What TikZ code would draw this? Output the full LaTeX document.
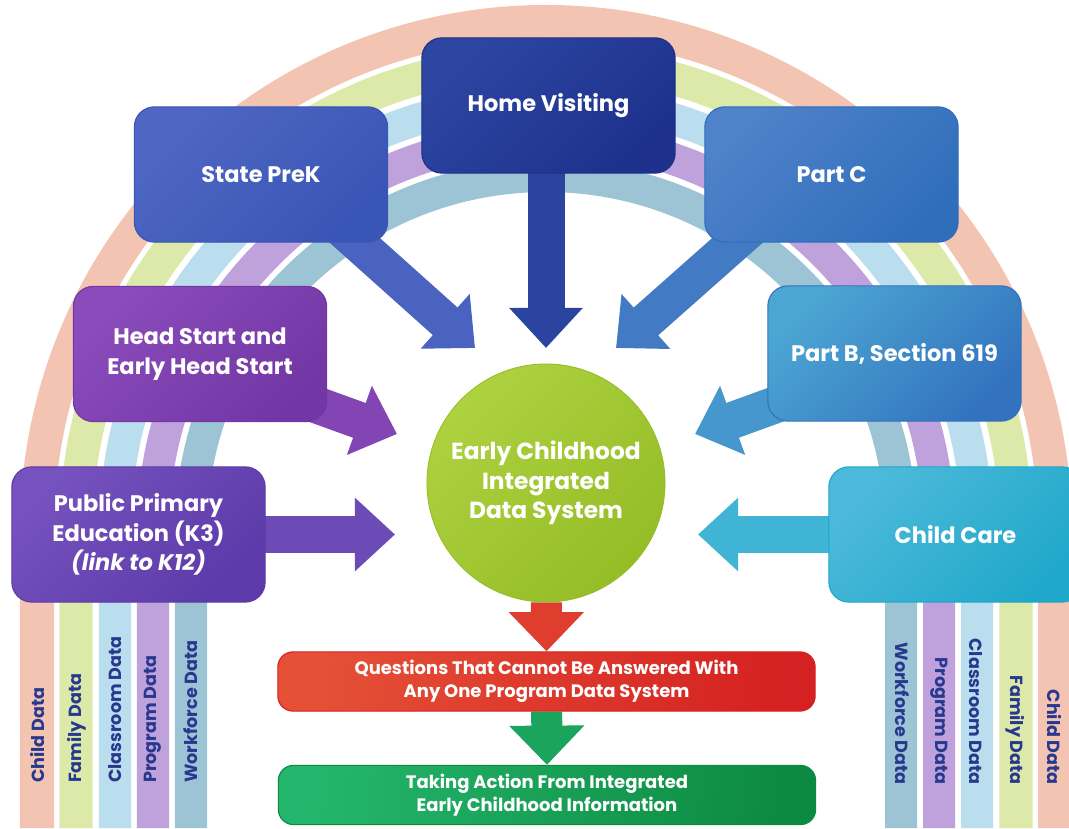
\documentclass[tikz,border=0pt]{standalone}
\usepackage{fontspec}
\setmainfont{Poppins}
\usetikzlibrary{arrows.meta,calc}

\pgfdeclarelayer{bands}
\pgfdeclarelayer{feeds}
\pgfsetlayers{bands,feeds,main}

% rainbow bands
\definecolor{childband}{HTML}{F4C4B2}
\definecolor{familyband}{HTML}{DCE9A9}
\definecolor{classband}{HTML}{BBDEEE}
\definecolor{progband}{HTML}{BFA2DC}
\definecolor{workband}{HTML}{9CC4D4}
\definecolor{bandink}{HTML}{27398F}
% programs
\definecolor{prekA}{HTML}{4F67C3}\definecolor{prekB}{HTML}{3955B5}
\definecolor{hvA}{HTML}{2D46A2}\definecolor{hvB}{HTML}{1D318C}
\definecolor{partcA}{HTML}{4E82C9}\definecolor{partcB}{HTML}{306EBB}
\definecolor{hsA}{HTML}{8B4CBB}\definecolor{hsB}{HTML}{7236A5}
\definecolor{ppA}{HTML}{7552BD}\definecolor{ppB}{HTML}{5C3AA9}
\definecolor{pbA}{HTML}{4CA6D3}\definecolor{pbB}{HTML}{3373BE}
\definecolor{ccA}{HTML}{4CB9DA}\definecolor{ccB}{HTML}{20A8CA}
\definecolor{hubA}{HTML}{AED140}\definecolor{hubB}{HTML}{94BD26}
\definecolor{qsA}{HTML}{E55137}\definecolor{qsB}{HTML}{D52121}
\definecolor{taA}{HTML}{24B66C}\definecolor{taB}{HTML}{0D8A41}

\tikzset{
  unit/.style 2 args={draw=#2, line width=0.8pt, rounded corners=0.5cm,
    left color=#1, right color=#2, shading angle=45,
    minimum width=6.33cm, minimum height=3.38cm, align=center, text=white,
    font=\bfseries\fontsize{16}{21}\selectfont},
  hub/.style={circle, draw=hubB, line width=0.6pt, left color=hubA, right color=hubB,
    shading angle=45, minimum size=5.95cm, align=center, text=white,
    font=\bfseries\fontsize{16.6}{21}\selectfont},
  outcome/.style 2 args={draw=#2, line width=0.8pt, rounded corners=0.38cm,
    left color=#1, right color=#2, shading angle=80,
    minimum width=13.43cm, minimum height=1.48cm, align=center, text=white,
    font=\bfseries\fontsize{12.8}{16}\selectfont},
  bandtext/.style={inner sep=0pt, text=bandink, font=\bfseries\fontsize{12.5}{14}\selectfont},
  feed/.style={line width=0.925cm, #1, -{Triangle[width=1.775cm,length=1cm]}},
  drop/.style={line width=0.775cm, #1, -{Triangle[width=1.82cm,length=0.98cm]}}
}

\begin{document}
\begin{tikzpicture}[x=0.025cm, y=0.025cm]
  \useasboundingbox (0,0) rectangle (1069,828);

  \begin{pgfonlayer}{bands}
    \foreach \r/\w/\c in {509/0.85cm/childband, 470/0.83cm/familyband,
        431/0.8cm/classband, 393/0.8cm/progband, 355/0.8cm/workband}
      \draw[line width=\w, \c] (546-\r,0) -- (546-\r,297)
        arc[start angle=180, end angle=0, radius=\r] -- (546+\r,0);
    \foreach \x/\t [count=\i] in {38/Child Data, 77/Family Data, 115/Classroom Data,
        153/Program Data, 191/Workforce Data}
      \node (bl\i) at (\x,45) [bandtext, rotate=90, anchor=west] {\t};
    \foreach \x/\t [count=\i] in {902/Workforce Data, 939/Program Data,
        976/Classroom Data, 1015/Family Data, 1054/Child Data}
      \node (br\i) at (\x,43) [bandtext, rotate=-90, anchor=east] {\t};
  \end{pgfonlayer}

  \node (hv) at (548.5,722.5) [unit={hvA}{hvB}] {Home Visiting};
  \node (prek) at (261,653.5) [unit={prekA}{prekB}] {State PreK};
  \node (partc) at (831.5,653.5) [unit={partcA}{partcB}] {Part C};
  \node (hs) at (200,474) [unit={hsA}{hsB}] {Head Start and\\Early Head Start};
  \node (pb) at (894.5,474.5) [unit={pbA}{pbB}] {Part B, Section 619};
  \node (pp) at (138.5,293.5) [unit={ppA}{ppB}] {Public Primary\\Education (K3)\\\textit{(link to K12)}};
  \node (cc) at (955.5,293.5) [unit={ccA}{ccB}] {Child Care};

  \node (ecids) at (546,345) [hub] {Early Childhood\\Integrated\\Data System};

  \node (qs) at (546.5,146.5) [outcome={qsA}{qsB}] {Questions That Cannot Be Answered With\\Any One Program Data System};
  \node (ta) at (547,33) [outcome={taA}{taB}] {Taking Action From Integrated\\Early Childhood Information};

  % arrow tips
  \coordinate (hvtip) at (546,480);
  \coordinate (prektip) at (475,480);
  \coordinate (partctip) at (616,480);
  \coordinate (hstip) at (397,394);
  \coordinate (pbtip) at (695,394);
  \coordinate (pptip) at (395,293.5);
  \coordinate (cctip) at (698,293.5);

  \begin{pgfonlayer}{feeds}
    \draw[feed=hvA!90!hvB] (hv.center -| hvtip) -- (hvtip);
    \draw[feed=prekA!80!prekB] ($(prek.south east)+(-61,27)$) -- (prektip);
    \draw[feed=partcA!60!partcB] ($(partc.south west)+(61,27)$) -- (partctip);
    \draw[feed=hsA!70!hsB] ($(hs.east)+(-27,-45)$) -- (hstip);
    \draw[feed=pbA!70!pbB] ($(pb.west)+(24,-45.5)$) -- (pbtip);
    \draw[feed=ppA!70!ppB] (pp.center) -- (pptip);
    \draw[feed=ccA!70!ccB] (cc.center) -- (cctip);
    \draw[drop=qsA!60!qsB] (ecids) -- (qs.north);
    \draw[drop=taA!60!taB] (qs) -- (ta.north);
  \end{pgfonlayer}
\end{tikzpicture}
\end{document}
